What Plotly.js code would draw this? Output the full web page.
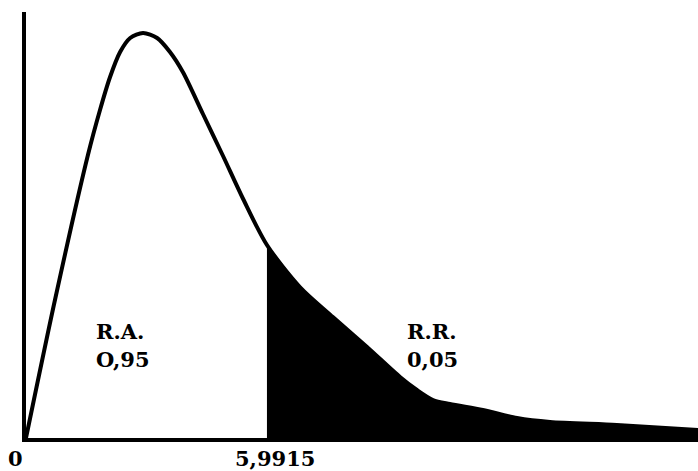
<!DOCTYPE html>
<html>
<head>
<meta charset="utf-8">
<script src="https://cdn.plot.ly/plotly-3.0.1.min.js"></script>
<style>html,body{margin:0;padding:0;background:#fff;}#chart{width:698px;height:471px;}</style>
</head>
<body>
<div id="chart"></div>
<script>
// Curve (relative density)
const xVals = [0, 0.72, 1.54, 1.84, 2.09, 2.34, 2.59, 2.91, 3.26, 3.58, 3.90, 4.40, 4.90, 5.40, 5.9915,
               6.81, 7.63, 8.48, 9.30, 9.72, 10.12, 10.54, 11.36, 12.21, 13.03, 14.69, 16.71];
const yVals = [0, 0.138, 0.283, 0.328, 0.361, 0.386, 0.400, 0.405, 0.400, 0.386, 0.366, 0.324, 0.282, 0.239, 0.193,
               0.151, 0.121, 0.091, 0.061, 0.048, 0.038, 0.034, 0.028, 0.020, 0.016, 0.013, 0.008];
const critical = 5.9915;
const tickVals = [0, critical];
const tickText = ["0", "5,9915"];
const regionLabels = [["R.A.", "O,95"], ["R.R.", "0,05"]];

const tailX = [], tailY = [];
xVals.forEach((x, i) => { if (x >= critical) { tailX.push(x); tailY.push(yVals[i]); } });

const curve = {x: xVals, y: yVals, mode: 'lines', line: {color: '#000', width: 4, shape: 'spline', smoothing: 0.8}, hoverinfo: 'skip'};
const tail = {x: tailX, y: tailY, mode: 'lines', fill: 'tozeroy', fillcolor: '#000', line: {color: '#000', width: 2, shape: 'spline', smoothing: 0.8}, hoverinfo: 'skip'};

const font = {family: 'DejaVu Serif', size: 21, color: '#000', weight: 'bold'};
const annotations = [];
const labelX = [1.70, 9.43];
regionLabels.forEach((lines, k) => {
  annotations.push({x: labelX[k], y: 0.1065, xref: 'x', yref: 'y', text: '<b>' + lines[0] + '</b>', showarrow: false, xanchor: 'left', yanchor: 'middle', font: font});
  annotations.push({x: labelX[k], y: 0.079, xref: 'x', yref: 'y', text: '<b>' + lines[1] + '</b>', showarrow: false, xanchor: 'left', yanchor: 'middle', font: font});
});
annotations.push({x: tickVals[0], y: -0.047, xref: 'x', yref: 'paper', text: '<b>' + tickText[0] + '</b>', showarrow: false, xanchor: 'right', yanchor: 'middle', xshift: -1, font: font});
annotations.push({x: tickVals[1], y: -0.047, xref: 'x', yref: 'paper', text: '<b>' + tickText[1] + '</b>', showarrow: false, xanchor: 'center', yanchor: 'middle', xshift: 8, font: font});

const layout = {
  width: 698, height: 471,
  margin: {l: 26, r: 0, t: 12, b: 33},
  paper_bgcolor: '#fff', plot_bgcolor: '#fff',
  showlegend: false,
  xaxis: {range: [0, 16.71], showline: true, linewidth: 4, linecolor: '#000', showgrid: false, zeroline: false, showticklabels: false, ticks: ''},
  yaxis: {range: [0, 0.426], showline: true, linewidth: 4, linecolor: '#000', showgrid: false, zeroline: false, showticklabels: false, ticks: ''},
  annotations: annotations
};
Plotly.newPlot('chart', [tail, curve], layout, {displayModeBar: false, staticPlot: true});
</script>
</body>
</html>
